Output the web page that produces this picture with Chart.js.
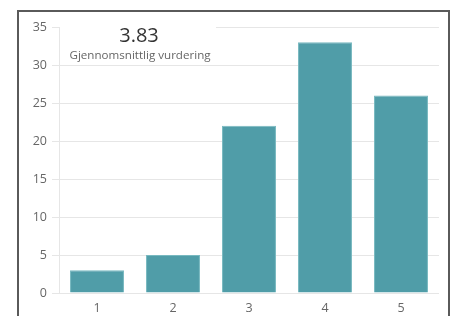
<!DOCTYPE html>
<html>
<head>
<meta charset="utf-8">
<script src="https://cdn.jsdelivr.net/npm/chart.js@4.4.1/dist/chart.umd.min.js"></script>
<style>
  html, body { margin: 0; padding: 0; background: #fff; overflow: hidden; }
  #wrap { position: relative; width: 451px; height: 316px; }
  #frame {
    position: absolute; left: 17px; top: 10px; width: 429px; height: 400px;
    border: 2px solid #5a5a5a; pointer-events: none;
  }
</style>
</head>
<body>
<div id="wrap">
  <canvas id="ratingChart" width="451" height="316"></canvas>
  <div id="frame"></div>
</div>
<script>
const categories = ['1', '2', '3', '4', '5'];
const counts = [3, 5, 22, 33, 26];
const yTicks = [0, 5, 10, 15, 20, 25, 30, 35];
const averageLabel = 'Gjennomsnittlig vurdering';

const total = counts.reduce((a, b) => a + b, 0);
const average = counts.reduce((s, c, i) => s + c * Number(categories[i]), 0) / total;

// kort med snitt øverst til venstre
const averageCard = {
    id: 'averageCard',
    beforeDatasetsDraw(chart) {
        const { ctx, chartArea } = chart;
        ctx.save();
        ctx.fillStyle = '#fff';
        ctx.fillRect(chartArea.left + 1, chartArea.top - 4, 156, 30);
        ctx.textAlign = 'center';
        ctx.textBaseline = 'alphabetic';
        ctx.fillStyle = '#333';
        ctx.font = '20px "Open Sans", sans-serif';
        ctx.fillText(average.toFixed(2), 139, 42);
        ctx.fillStyle = '#666';
        ctx.font = '11.6px "Open Sans", sans-serif';
        ctx.fillText(averageLabel, 140, 59);
        ctx.restore();
    }
};

const ctx = document.getElementById('ratingChart').getContext('2d');
new Chart(ctx, {
    type: 'bar',
    data: {
        labels: categories,
        datasets: [{
            data: counts,
            backgroundColor: 'rgb(80, 157, 168)',
            borderColor: 'rgb(120, 185, 192)',
            borderWidth: 1,
            categoryPercentage: 1,
            barPercentage: 0.71
        }]
    },
    options: {
        responsive: false,
        animation: false,
        layout: { padding: { left: 20, right: 12, top: 27, bottom: 0 } },
        plugins: {
            legend: { display: false },
            tooltip: { enabled: false }
        },
        scales: {
            x: {
                grid: { display: false },
                border: { display: false },
                ticks: { color: '#666', font: { family: 'Open Sans', size: 12.5 }, padding: 0 },
                afterFit: scale => { scale.height = 23; }
            },
            y: {
                min: 0,
                max: 35,
                afterBuildTicks: scale => { scale.ticks = yTicks.map(v => ({ value: v })); },
                grid: { color: '#e6e6e6', tickLength: 7, tickColor: '#e6e6e6' },
                border: { display: true, color: '#e6e6e6' },
                ticks: { color: '#666', font: { family: 'Open Sans', size: 12.5 }, padding: 5 },
                afterFit: scale => { scale.width = 39; }
            }
        }
    },
    plugins: [averageCard]
});
</script>
</body>
</html>
